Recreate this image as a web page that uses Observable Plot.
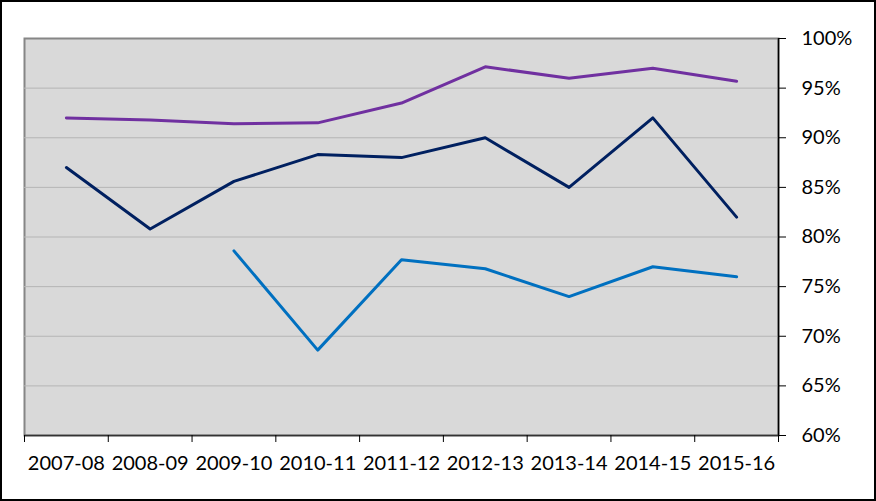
<!DOCTYPE html>
<html>
<head>
<meta charset="utf-8">
<script src="https://cdn.jsdelivr.net/npm/d3@7"></script>
<script src="https://cdn.jsdelivr.net/npm/@observablehq/plot@0.6"></script>
<style>
  html, body { margin: 0; padding: 0; background: #fff; }
  #chart svg { display: block; outline: 2px solid #000; outline-offset: -2px; }
</style>
</head>
<body>
<div id="chart"></div>
<script>
const categories = ["2007-08", "2008-09", "2009-10", "2010-11", "2011-12", "2012-13", "2013-14", "2014-15", "2015-16"];
const purpleSeries = [92.0, 91.8, 91.4, 91.5, 93.5, 97.15, 96.0, 97.0, 95.7];
const navySeries = [87.0, 80.8, 85.6, 88.3, 88.0, 90.0, 85.0, 92.0, 82.0];
const blueSeries = [null, null, 78.6, 68.6, 77.7, 76.8, 74.0, 77.0, 76.0];
const yTicks = [60, 65, 70, 75, 80, 85, 90, 95, 100];
const gridValues = [65, 70, 75, 80, 85, 90, 95];

const rows = (vals) => vals.map((v, i) => ({i, v})).filter(d => d.v != null);
const boundaries = d3.range(-0.5, categories.length, 1);

const chart = Plot.plot({
  width: 876,
  height: 501,
  marginLeft: 24,
  marginRight: 98,
  marginTop: 38,
  marginBottom: 66,
  style: { fontFamily: "Lato, 'Open Sans', sans-serif", fontSize: "20px", color: "#000", background: "#fff" },
  x: { type: "linear", domain: [-0.5, categories.length - 0.5] },
  y: { domain: [60, 100] },
  marks: [
    Plot.frame({ fill: "#D9D9D9", stroke: "#868686", strokeWidth: 2 }),
    Plot.ruleY(gridValues, { stroke: "#B5B5B5", strokeWidth: 1 }),
    Plot.line(rows(purpleSeries), { x: "i", y: "v", stroke: "#7030A0", strokeWidth: 3 }),
    Plot.line(rows(navySeries), { x: "i", y: "v", stroke: "#002060", strokeWidth: 3 }),
    Plot.line(rows(blueSeries), { x: "i", y: "v", stroke: "#0070C0", strokeWidth: 3 }),
    Plot.ruleY([60], { stroke: "#333", strokeWidth: 1.5 }),
    Plot.ruleX([categories.length - 0.5], { stroke: "#000", strokeWidth: 1.5 }),
    Plot.axisY({ anchor: "right", ticks: yTicks, tickSize: 7, tickPadding: 16, tickFormat: d => d + "%", fontSize: 20, label: null }),
    Plot.axisX({ ticks: boundaries, tickSize: 7, tickFormat: () => "", label: null }),
    Plot.axisX({ ticks: d3.range(categories.length), tickSize: 0, tickPadding: 20, tickFormat: i => categories[i], fontSize: 20, label: null })
  ]
});
document.getElementById("chart").appendChild(chart);
</script>
</body>
</html>
